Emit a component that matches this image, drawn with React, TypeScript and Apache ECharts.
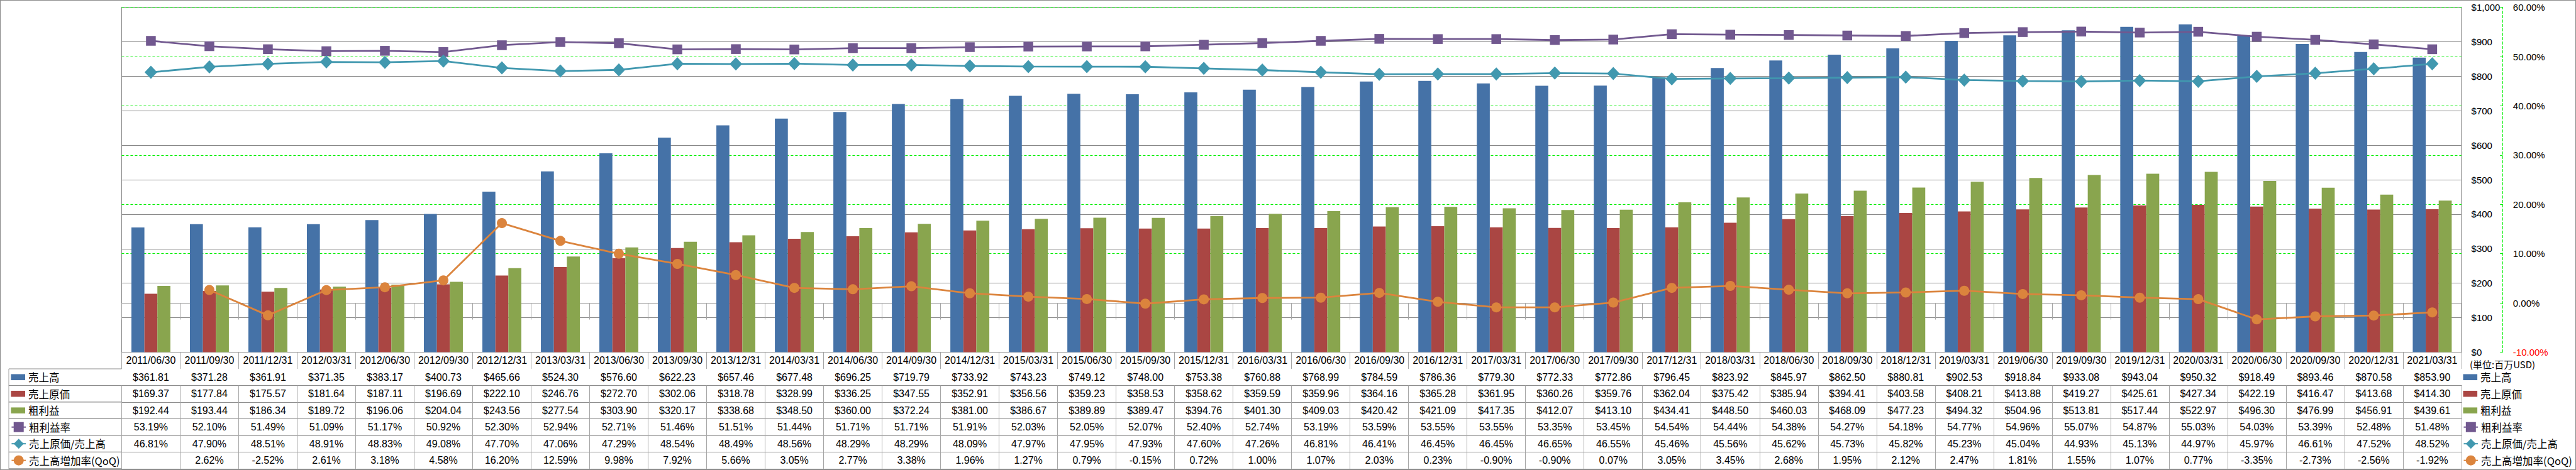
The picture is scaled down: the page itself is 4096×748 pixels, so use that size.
import React, { useEffect, useRef } from 'react';
import * as echarts from 'echarts';

const dates = [
  '2011/06/30', '2011/09/30', '2011/12/31', '2012/03/31', '2012/06/30', '2012/09/30', '2012/12/31', '2013/03/31',
  '2013/06/30', '2013/09/30', '2013/12/31', '2014/03/31', '2014/06/30', '2014/09/30', '2014/12/31', '2015/03/31',
  '2015/06/30', '2015/09/30', '2015/12/31', '2016/03/31', '2016/06/30', '2016/09/30', '2016/12/31', '2017/03/31',
  '2017/06/30', '2017/09/30', '2017/12/31', '2018/03/31', '2018/06/30', '2018/09/30', '2018/12/31', '2019/03/31',
  '2019/06/30', '2019/09/30', '2019/12/31', '2020/03/31', '2020/06/30', '2020/09/30', '2020/12/31', '2021/03/31',
];

const revenue = [
  361.81, 371.28, 361.91, 371.35, 383.17, 400.73, 465.66, 524.3, 576.6, 622.23,
  657.46, 677.48, 696.25, 719.79, 733.92, 743.23, 749.12, 748.0, 753.38, 760.88,
  768.99, 784.59, 786.36, 779.3, 772.33, 772.86, 796.45, 823.92, 845.97, 862.5,
  880.81, 902.53, 918.84, 933.08, 943.04, 950.32, 918.49, 893.46, 870.58, 853.9,
];

const costOfSales = [
  169.37, 177.84, 175.57, 181.64, 187.11, 196.69, 222.1, 246.76, 272.7, 302.06,
  318.78, 328.99, 336.25, 347.55, 352.91, 356.56, 359.23, 358.53, 358.62, 359.59,
  359.96, 364.16, 365.28, 361.95, 360.26, 359.76, 362.04, 375.42, 385.94, 394.41,
  403.58, 408.21, 413.88, 419.27, 425.61, 427.34, 422.19, 416.47, 413.68, 414.3,
];

const grossProfit = [
  192.44, 193.44, 186.34, 189.72, 196.06, 204.04, 243.56, 277.54, 303.9, 320.17,
  338.68, 348.5, 360.0, 372.24, 381.0, 386.67, 389.89, 389.47, 394.76, 401.3,
  409.03, 420.42, 421.09, 417.35, 412.07, 413.1, 434.41, 448.5, 460.03, 468.09,
  477.23, 494.32, 504.96, 513.81, 517.44, 522.97, 496.3, 476.99, 456.91, 439.61,
];

const grossMargin = [
  53.19, 52.1, 51.49, 51.09, 51.17, 50.92, 52.3, 52.94, 52.71, 51.46,
  51.51, 51.44, 51.71, 51.71, 51.91, 52.03, 52.05, 52.07, 52.4, 52.74,
  53.19, 53.59, 53.55, 53.55, 53.35, 53.45, 54.54, 54.44, 54.38, 54.27,
  54.18, 54.77, 54.96, 55.07, 54.87, 55.03, 54.03, 53.39, 52.48, 51.48,
];

const costRatio = [
  46.81, 47.9, 48.51, 48.91, 48.83, 49.08, 47.7, 47.06, 47.29, 48.54,
  48.49, 48.56, 48.29, 48.29, 48.09, 47.97, 47.95, 47.93, 47.6, 47.26,
  46.81, 46.41, 46.45, 46.45, 46.65, 46.55, 45.46, 45.56, 45.62, 45.73,
  45.82, 45.23, 45.04, 44.93, 45.13, 44.97, 45.97, 46.61, 47.52, 48.52,
];

const qoqGrowth: (number | null)[] = [
  null, 2.62, -2.52, 2.61, 3.18, 4.58, 16.2, 12.59, 9.98, 7.92,
  5.66, 3.05, 2.77, 3.38, 1.96, 1.27, 0.79, -0.15, 0.72, 1.0,
  1.07, 2.03, 0.23, -0.9, -0.9, 0.07, 3.05, 3.45, 2.68, 1.95,
  2.12, 2.47, 1.81, 1.55, 1.07, 0.77, -3.35, -2.73, -2.56, -1.92,
];

const seriesNames = ['売上高', '売上原価', '粗利益', '粗利益率', '売上原価/売上高', '売上高増加率(QoQ)'];
const seriesColors = ['#4572A7', '#AA4643', '#89A54E', '#71588F', '#4198AF', '#DB843D'];

const moneyTicks = { min: 0, max: 1000, interval: 100 };
const pctTicks = { min: -10, max: 60, interval: 10 };
const unitLabel = '(単位:百万USD)';

const W = 4096;
const H = 748;
const S = W / 4701;

export default function App() {
  const ref = useRef<HTMLDivElement>(null);

  useEffect(() => {
    document.body.style.margin = '0';
    const chart = echarts.init(ref.current!, null, { renderer: 'svg' });

    const latin = "'Liberation Sans', Arial, sans-serif";
    const cjk = "'Noto Sans CJK JP', 'Noto Sans', sans-serif";

    const gridLeft = 222 * S;
    const gridRightEdge = 4492 * S;
    const gridTop = 13.3 * S;
    const gridBottomEdge = 643.3 * S;
    const rowH = 30.4 * S;
    const tableLeft = 16 * S;
    const lineGray = '#8c8c8c';
    const tickGray = '#a6a6a6';

    const fmtMoney = (v: number) => '$' + v.toFixed(2);
    const fmtPct = (v: number | null) => (v == null ? '' : v.toFixed(2) + '%');

    const rows: string[][] = [
      dates,
      revenue.map(fmtMoney),
      costOfSales.map(fmtMoney),
      grossProfit.map(fmtMoney),
      grossMargin.map(fmtPct),
      costRatio.map(fmtPct),
      qoqGrowth.map(fmtPct),
    ];

    const xAxes: any[] = rows.map((labels, k) => ({
      type: 'category',
      gridIndex: 0,
      position: 'bottom',
      offset: k * rowH,
      data: labels,
      boundaryGap: true,
      axisLine: { show: true, lineStyle: { color: lineGray, width: 1.2 } },
      axisTick: { show: true, interval: 0, length: rowH, lineStyle: { color: tickGray, width: 1 } },
      axisLabel: {
        show: true,
        interval: 0,
        margin: rowH / 2,
        verticalAlign: 'middle',
        fontSize: 16,
        fontFamily: latin,
        color: '#000',
      },
      splitLine: { show: false },
    }));
    xAxes.push({
      type: 'category',
      gridIndex: 0,
      position: 'bottom',
      offset: 7 * rowH,
      data: dates.map(() => ''),
      axisLine: { show: true, lineStyle: { color: lineGray, width: 1.2 } },
      axisTick: { show: false },
      axisLabel: { show: false },
      splitLine: { show: false },
    });

    const rowCenter = (k: number) => gridBottomEdge + k * rowH + rowH / 2;

    const legendBase = {
      orient: 'vertical',
      padding: 0,
      itemGap: rowH - 20,
      selectedMode: false,
      textStyle: { fontFamily: cjk, fontSize: 16.5, lineHeight: 20, color: '#000' },
    };
    const barLegendData = seriesNames.slice(0, 3).map((n) => ({ name: n, icon: 'rect' }));
    const lineLegendData = seriesNames.slice(3);

    const legends = [
      { ...legendBase, left: 4495 * S, top: rowCenter(1) - 10, itemWidth: 22.6, itemHeight: 9.6, data: barLegendData },
      { ...legendBase, left: 4495 * S, top: rowCenter(4) - 10, itemWidth: 22.6, itemHeight: 20, data: lineLegendData },
      { ...legendBase, left: 20 * S, top: rowCenter(1) - 10, itemWidth: 22.6, itemHeight: 9.6, data: barLegendData },
      { ...legendBase, left: 20 * S, top: rowCenter(4) - 10, itemWidth: 22.6, itemHeight: 20, data: lineLegendData },
    ];

    const graphics: any[] = [
      {
        type: 'rect',
        silent: true,
        z: -10,
        shape: { x: 0.5, y: 0.5, width: W - 1, height: H - 1 },
        style: { fill: 'none', stroke: lineGray, lineWidth: 1.2 },
      },
      {
        type: 'line',
        silent: true,
        shape: { x1: tableLeft, y1: gridBottomEdge + rowH, x2: tableLeft, y2: gridBottomEdge + 7 * rowH },
        style: { stroke: tickGray, lineWidth: 1 },
      },
      {
        type: 'text',
        silent: true,
        x: 4507 * S,
        y: 665 * S,
        style: { text: unitLabel, fontFamily: cjk, fontSize: 15, fill: '#000', verticalAlign: 'middle', align: 'left' },
      },
    ];
    for (let k = 1; k <= 7; k++) {
      graphics.push({
        type: 'line',
        silent: true,
        shape: { x1: tableLeft, y1: gridBottomEdge + k * rowH, x2: gridLeft, y2: gridBottomEdge + k * rowH },
        style: { stroke: lineGray, lineWidth: 1.2 },
      });
    }

    const barSeries = [revenue, costOfSales, grossProfit].map((d, i) => ({
      name: seriesNames[i],
      type: 'bar',
      xAxisIndex: 0,
      yAxisIndex: 0,
      data: d,
      barWidth: 23.7 * S,
      barGap: '0%',
      itemStyle: { color: seriesColors[i] },
    }));

    const symbols = ['rect', 'diamond', 'circle'];
    const symbolSizes: any[] = [15.5, [20, 21], 16];
    const lineSeries = [grossMargin, costRatio, qoqGrowth].map((d, i) => ({
      name: seriesNames[i + 3],
      type: 'line',
      xAxisIndex: 0,
      yAxisIndex: 1,
      data: d,
      symbol: symbols[i],
      symbolSize: symbolSizes[i],
      showSymbol: true,
      showAllSymbol: true,
      lineStyle: { color: seriesColors[i + 3], width: 2.8 },
      itemStyle: { color: seriesColors[i + 3] },
      z: 5,
    }));

    const option: any = {
      animation: false,
      backgroundColor: '#fff',
      grid: {
        left: gridLeft,
        top: gridTop,
        width: gridRightEdge - gridLeft,
        height: gridBottomEdge - gridTop,
        show: true,
        borderColor: lineGray,
        borderWidth: 1.2,
        backgroundColor: 'transparent',
      },
      legend: legends,
      xAxis: xAxes,
      yAxis: [
        {
          type: 'value',
          position: 'right',
          offset: 0,
          ...moneyTicks,
          axisLine: { show: false },
          axisTick: { show: false },
          axisLabel: {
            margin: 18 * S,
            fontSize: 15,
            fontFamily: latin,
            color: '#000',
            formatter: (v: number) => '$' + v.toLocaleString('en-US'),
          },
          splitLine: { show: true, lineStyle: { color: '#868686', width: 1 } },
        },
        {
          type: 'value',
          position: 'right',
          offset: (4567 - 4492) * S,
          ...pctTicks,
          axisLine: { show: true, lineStyle: { color: '#00ee00', type: [4, 3], width: 1 } },
          axisTick: { show: true, inside: true, length: 4, lineStyle: { color: '#00ee00', width: 1 } },
          axisLabel: {
            margin: (4586 - 4567) * S,
            fontSize: 15,
            fontFamily: latin,
            color: (v: any) => (Number(v) === -10 ? '#ff0000' : '#000'),
            formatter: (v: number) => v.toFixed(2) + '%',
          },
          splitLine: { show: true, lineStyle: { color: '#00ee00', type: [4, 3], width: 1 } },
        },
      ],
      graphic: graphics,
      series: [...barSeries, ...lineSeries],
    };

    chart.setOption(option);
    return () => chart.dispose();
  }, []);

  return <div ref={ref} style={{ width: W, height: H, position: 'absolute', left: 0, top: 0 }} />;
}
